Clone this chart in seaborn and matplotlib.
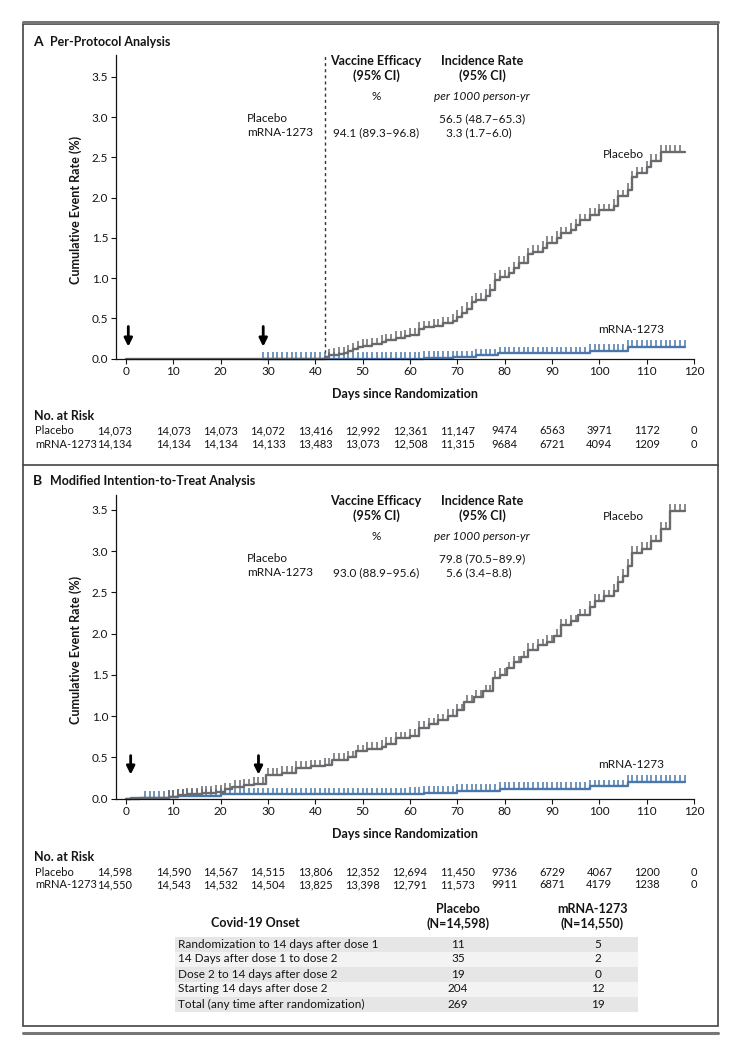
import numpy as np
import pandas as pd
import matplotlib
matplotlib.use("Agg")
import matplotlib.pyplot as plt
import matplotlib.transforms as mtransforms
from matplotlib.patches import Rectangle
from matplotlib.lines import Line2D
import seaborn as sns

# ---- data ----
# Panel A (per-protocol): step times (days) and cumulative event rate (%)
pp_placebo_days = [0, 42, 43, 44, 45, 46, 47, 48, 49, 50, 52, 54, 55, 57, 59, 60, 62, 63, 65, 67,
                   69, 70, 71, 72, 73, 74, 76, 77, 78, 79, 81, 82, 83, 85, 86, 88, 89, 91, 92, 94,
                   95, 96, 98, 100, 103, 104, 106, 107, 108, 110, 111, 113]
pp_placebo_rate = [0.0, 0.02, 0.04, 0.05, 0.06, 0.07, 0.09, 0.12, 0.14, 0.16, 0.18, 0.21, 0.23, 0.26,
                   0.28, 0.30, 0.37, 0.39, 0.41, 0.44, 0.47, 0.52, 0.57, 0.62, 0.70, 0.73, 0.78, 0.85,
                   0.98, 1.02, 1.06, 1.12, 1.19, 1.30, 1.33, 1.38, 1.44, 1.50, 1.56, 1.60, 1.66, 1.72,
                   1.79, 1.84, 1.90, 2.02, 2.10, 2.25, 2.30, 2.38, 2.46, 2.57]
pp_vaccine_days = [29, 63, 69, 74, 78.5, 98, 106]
pp_vaccine_rate = [0.0, 0.01, 0.02, 0.04, 0.07, 0.10, 0.15]

# Panel B (modified intention-to-treat)
itt_placebo_days = [0, 3, 9, 11, 13, 16, 19, 21, 22.5, 25, 27, 29.5, 33, 36, 39, 42, 43.5, 47, 48.5,
                    51, 54, 55, 57, 60, 62, 64, 66, 68, 70, 71.5, 73.5, 75.5, 77.5, 79, 80.5, 82,
                    83.5, 85, 87, 89, 90.5, 92, 94, 95.5, 98, 99, 101, 103, 104, 105, 106, 107, 109,
                    111, 113, 115]
itt_placebo_rate = [0.0, 0.01, 0.02, 0.04, 0.05, 0.07, 0.08, 0.11, 0.14, 0.16, 0.18, 0.29, 0.31,
                    0.37, 0.39, 0.41, 0.47, 0.50, 0.57, 0.60, 0.63, 0.66, 0.73, 0.76, 0.86, 0.90,
                    0.95, 1.00, 1.07, 1.17, 1.23, 1.30, 1.46, 1.50, 1.58, 1.65, 1.71, 1.80, 1.86,
                    1.90, 1.97, 2.10, 2.15, 2.22, 2.32, 2.40, 2.45, 2.52, 2.62, 2.70, 2.82, 2.98,
                    3.03, 3.12, 3.27, 3.49]
itt_vaccine_days = [0, 1, 9, 11, 20, 60, 63, 70, 79, 98, 106]
itt_vaccine_rate = [0.0, 0.005, 0.02, 0.03, 0.05, 0.06, 0.07, 0.09, 0.12, 0.15, 0.20]

follow_up_end = 118
# censoring marks appear once a day between these days
pp_placebo_censor = (43, 117)
pp_vaccine_censor = (29, 118)
itt_placebo_censor = (9, 118)
itt_vaccine_censor = (4, 118)

risk_days = [0, 10, 20, 30, 40, 50, 60, 70, 80, 90, 100, 110, 120]
pp_risk_placebo = ["14,073", "14,073", "14,073", "14,072", "13,416", "12,992", "12,361", "11,147",
                   "9474", "6563", "3971", "1172", "0"]
pp_risk_vaccine = ["14,134", "14,134", "14,134", "14,133", "13,483", "13,073", "12,508", "11,315",
                   "9684", "6721", "4094", "1209", "0"]
itt_risk_placebo = ["14,598", "14,590", "14,567", "14,515", "13,806", "12,352", "12,694", "11,450",
                    "9736", "6729", "4067", "1200", "0"]
itt_risk_vaccine = ["14,550", "14,543", "14,532", "14,504", "13,825", "13,398", "12,791", "11,573",
                    "9911", "6871", "4179", "1238", "0"]

pp_efficacy = "94.1 (89.3\u201396.8)"
pp_incidence = ["56.5 (48.7\u201365.3)", "3.3 (1.7\u20136.0)"]
itt_efficacy = "93.0 (88.9\u201395.6)"
itt_incidence = ["79.8 (70.5\u201389.9)", "5.6 (3.4\u20138.8)"]

onset_labels = ["Randomization to 14 days after dose 1", "14 Days after dose 1 to dose 2",
                "Dose 2 to 14 days after dose 2", "Starting 14 days after dose 2",
                "Total (any time after randomization)"]
onset_placebo = [11, 35, 19, 204, 269]
onset_vaccine = [5, 2, 0, 12, 19]

PLACEBO_COL = "#696a6d"
VACCINE_COL = "#4a78ab"
TXT = "#141414"
FS = 8.5
FS_RISK = 8

sns.set_theme(style="ticks")
plt.rcParams['font.family'] = ['Lato', 'DejaVu Sans']

W, H = 740, 1047
fig = plt.figure(figsize=(7.4, 10.47), dpi=100)


def fx(px):
    return px / W


def fy(py):
    return 1 - py / H


def km_curve(ax, days, rates, censor, color):
    df = pd.DataFrame({'day': list(days) + [follow_up_end], 'rate': list(rates) + [rates[-1]]})
    sns.lineplot(data=df, x='day', y='rate', drawstyle='steps-post', color=color, lw=1.7,
                 estimator=None, sort=False, ax=ax, clip_on=False)
    cdays = np.arange(censor[0], censor[1] + 1)
    idx = np.searchsorted(days, cdays, side='right') - 1
    cy = np.asarray(rates)[idx]
    ax.vlines(cdays, cy, cy + 0.08, color=color, lw=1.1, clip_on=False)


def setup_axis(ax, ytop):
    ax.set_xlim(-2.1, 120)
    ax.set_ylim(0, ytop)
    ax.set_xticks(range(0, 121, 10))
    ax.set_yticks([0, 0.5, 1.0, 1.5, 2.0, 2.5, 3.0, 3.5])
    ax.yaxis.set_major_formatter('{x:.1f}')
    sns.despine(ax=ax)
    for s in ax.spines.values():
        s.set_linewidth(0.9)
        s.set_color(TXT)
    ax.tick_params(length=3.5, width=0.8, labelsize=FS, colors=TXT, pad=2)


def panel(ax, top_px, bottom_px, letter, title, eff, inc, header_y, rows_y,
          placebo, vaccine, pl_lab, va_lab, arrows, risk_pl, risk_va, risk_y):
    # panel title
    fig.text(fx(33), fy(top_px), letter, fontsize=10, fontweight='bold', color=TXT, va='center')
    fig.text(fx(50), fy(top_px), title, fontsize=9, fontweight='bold', color=TXT, va='center')
    km_curve(ax, *vaccine, VACCINE_COL)
    km_curve(ax, *placebo, PLACEBO_COL)
    ax.set_xlabel('')
    ax.set_ylabel('')
    # curve labels
    ax.text(pl_lab[0], pl_lab[1], 'Placebo', fontsize=FS, ha='center', va='center', color=TXT)
    ax.text(va_lab[0], va_lab[1], 'mRNA-1273', fontsize=FS, ha='center', va='center', color=TXT)
    for d, y0, y1 in arrows:
        ax.annotate('', xy=(d, y0), xytext=(d, y1),
                    arrowprops=dict(arrowstyle='-|>', color='black', lw=2.0, mutation_scale=12,
                                    shrinkA=0, shrinkB=0))
    # header block
    hy = header_y
    fig.text(fx(376), fy(hy), 'Vaccine Efficacy', fontsize=9, fontweight='bold', ha='center',
             va='center', color=TXT)
    fig.text(fx(376), fy(hy + 15), '(95% CI)', fontsize=9, fontweight='bold', ha='center',
             va='center', color=TXT)
    fig.text(fx(376), fy(hy + 36), '%', fontsize=FS, ha='center', va='center', color=TXT)
    fig.text(fx(482), fy(hy), 'Incidence Rate', fontsize=9, fontweight='bold', ha='center',
             va='center', color=TXT)
    fig.text(fx(482), fy(hy + 15), '(95% CI)', fontsize=9, fontweight='bold', ha='center',
             va='center', color=TXT)
    fig.text(fx(482), fy(hy + 36), 'per 1000 person-yr', fontsize=FS, style='italic',
             ha='center', va='center', color=TXT)
    fig.text(fx(247), fy(rows_y[0]), 'Placebo', fontsize=FS, va='center', color=TXT)
    fig.text(fx(247), fy(rows_y[1]), 'mRNA-1273', fontsize=FS, va='center', color=TXT)
    fig.text(fx(376), fy(rows_y[1]), eff, fontsize=FS, ha='center', va='center', color=TXT)
    fig.text(fx(482), fy(rows_y[0]), inc[0], fontsize=FS, ha='center', va='center', color=TXT)
    fig.text(fx(479), fy(rows_y[1]), inc[1], fontsize=FS, ha='center', va='center', color=TXT)
    # axis labels
    fig.text(fx(405), fy(bottom_px + 35), 'Days since Randomization', fontsize=9,
             fontweight='bold', ha='center', va='center', color=TXT)
    fig.text(fx(76), fy((top_px + 20 + bottom_px) / 2), 'Cumulative Event Rate (%)', fontsize=9,
             fontweight='bold', ha='center', va='center', rotation=90, color=TXT)
    # number at risk
    tr = mtransforms.blended_transform_factory(ax.transData, fig.transFigure)
    fig.text(fx(34), fy(risk_y), 'No. at Risk', fontsize=9, fontweight='bold', va='center',
             color=TXT)
    fig.text(fx(35), fy(risk_y + 15), 'Placebo', fontsize=FS_RISK, va='center', color=TXT)
    fig.text(fx(35), fy(risk_y + 28), 'mRNA-1273', fontsize=FS_RISK, va='center', color=TXT)
    for i, d in enumerate(risk_days):
        # the first column ends at day 0 so it clears the row labels
        ha = 'right' if d == 0 else 'center'
        xd = 1.2 if d == 0 else d
        ax.text(xd, fy(risk_y + 15), risk_pl[i], transform=tr, fontsize=FS_RISK, ha=ha,
                va='center', color=TXT)
        ax.text(xd, fy(risk_y + 28), risk_va[i], transform=tr, fontsize=FS_RISK, ha=ha,
                va='center', color=TXT)


# ---- panel A ----
axA = fig.add_axes([fx(116), fy(358.7), fx(694 - 116), (358.7 - 55) / H])
setup_axis(axA, 3.77)
axA.axvline(42, color='#333333', lw=1, ls=(0, (2.2, 2.2)), ymax=1)
panel(axA, 42, 358.7, 'A', 'Per-Protocol Analysis', pp_efficacy, pp_incidence, 61, (119, 133),
      (pp_placebo_days, pp_placebo_rate, pp_placebo_censor),
      (pp_vaccine_days, pp_vaccine_rate, pp_vaccine_censor),
      (105, 2.54), (106.7, 0.36), [(0.5, 0.15, 0.40), (29, 0.15, 0.40)],
      pp_risk_placebo, pp_risk_vaccine, 416)

# ---- panel B ----
axB = fig.add_axes([fx(116), fy(798.5), fx(694 - 116), (798.5 - 495) / H])
setup_axis(axB, 3.68)
panel(axB, 481, 798.5, 'B', 'Modified Intention-to-Treat Analysis', itt_efficacy, itt_incidence,
      501, (559, 573),
      (itt_placebo_days, itt_placebo_rate, itt_placebo_censor),
      (itt_vaccine_days, itt_vaccine_rate, itt_vaccine_censor),
      (105, 3.42), (106.8, 0.41), [(1, 0.29, 0.52), (28, 0.29, 0.52)],
      itt_risk_placebo, itt_risk_vaccine, 857)

# ---- onset table ----
fig.text(fx(255), fy(923), 'Covid-19 Onset', fontsize=9, fontweight='bold', ha='center',
         va='center', color=TXT)
fig.text(fx(458), fy(909), 'Placebo', fontsize=9, fontweight='bold', ha='center', va='center',
         color=TXT)
fig.text(fx(458), fy(924), '(N=14,598)', fontsize=9, fontweight='bold', ha='center',
         va='center', color=TXT)
fig.text(fx(592), fy(909), 'mRNA-1273', fontsize=9, fontweight='bold', ha='center', va='center',
         color=TXT)
fig.text(fx(592), fy(924), '(N=14,550)', fontsize=9, fontweight='bold', ha='center',
         va='center', color=TXT)
row_top = 936.5
row_h = 15
for i, lab in enumerate(onset_labels):
    y0 = row_top + i * row_h
    fig.add_artist(Rectangle((fx(175), fy(y0 + row_h)), fx(638 - 175), row_h / H,
                             facecolor='#e6e6e6' if i % 2 == 0 else '#f3f3f3',
                             edgecolor='none', transform=fig.transFigure, zorder=0))
    yc = fy(y0 + row_h / 2)
    fig.text(fx(178), yc, lab, fontsize=FS, va='center', color=TXT)
    fig.text(fx(458), yc, str(onset_placebo[i]), fontsize=FS, ha='center', va='center',
             color=TXT)
    fig.text(fx(598), yc, str(onset_vaccine[i]), fontsize=FS, ha='center', va='center',
             color=TXT)

# ---- frame ----
fig.add_artist(Rectangle((fx(23), fy(1026)), fx(718 - 23), (1026 - 24) / H, fill=False,
                         edgecolor='#444444', lw=1.2, transform=fig.transFigure))
fig.add_artist(Line2D([fx(23), fx(718)], [fy(465), fy(465)], color='#444444', lw=1.2,
                      transform=fig.transFigure))
fig.add_artist(Line2D([fx(23), fx(718)], [fy(21.5), fy(21.5)], color='#777777', lw=2.2,
                      transform=fig.transFigure))
fig.add_artist(Line2D([fx(23), fx(718)], [fy(1033), fy(1033)], color='#777777', lw=2.2,
                      transform=fig.transFigure))

fig.savefig('out.png', dpi=100, facecolor='white')
